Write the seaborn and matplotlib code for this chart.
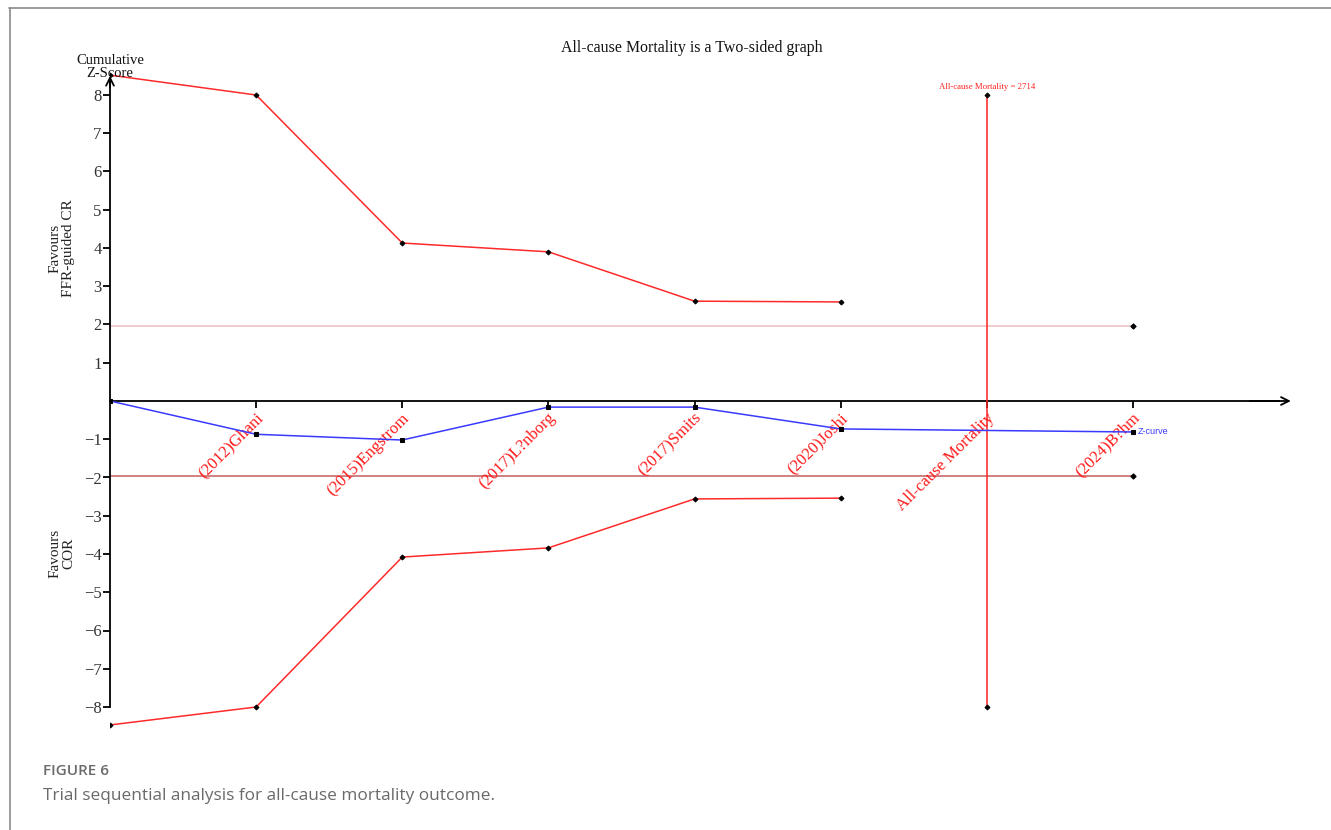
import matplotlib
matplotlib.use("Agg")
import matplotlib.pyplot as plt
from matplotlib.lines import Line2D
import seaborn as sns
import numpy as np

# ---- data ----
study_labels = ["(2012)Ghani", "(2015)Engstrom", "(2017)L?nborg", "(2017)Smits", "(2020)Joshi", "(2024)B?hm"]
study_pos = [1, 2, 3, 4, 5, 7]
ris_pos = 6
ris_label = "All-cause Mortality"
ris_text = "All-cause Mortality = 2714"

z_x = [0, 1, 2, 3, 4, 5, 7]
z_values = [0.0, -0.87, -1.02, -0.16, -0.16, -0.73, -0.81]

bound_x = [0, 1, 2, 3, 4, 5]
upper_bound = [8.52, 8.0, 4.13, 3.90, 2.61, 2.59]
lower_bound = [-8.47, -8.0, -4.08, -3.84, -2.56, -2.54]

conv_x = [0, 7]
conv_upper = [1.96, 1.96]
conv_lower = [-1.96, -1.96]

ris_y = [-8, 8]
yticks = [-8, -7, -6, -5, -4, -3, -2, -1, 1, 2, 3, 4, 5, 6, 7, 8]

# ---- style ----
sns.set_theme(style="white")
serif = ["Liberation Serif", "DejaVu Serif"]
plt.rcParams["font.family"] = serif

W, H = 1331, 830
fig = plt.figure(figsize=(W / 100, H / 100), dpi=100)
fig.patch.set_facecolor("white")

px0, px_step = 110, 146.14
y0_px, y_step = 401, 38.25
ax_right_px = 1300
ax_top_px, ax_bot_px = 70, 730
ax = fig.add_axes([px0 / W, (H - ax_bot_px) / H, (ax_right_px - px0) / W, (ax_bot_px - ax_top_px) / H])
ax.set_facecolor("none")
ax.set_xlim(0, (ax_right_px - px0) / px_step)
ax.set_ylim(-(ax_bot_px - y0_px) / y_step, (y0_px - ax_top_px) / y_step)

mk = dict(markerfacecolor="black", markeredgecolor="black")

# conventional boundaries
sns.lineplot(x=conv_x, y=conv_upper, ax=ax, color="#ecc4c4", lw=1.2, zorder=2, estimator=None)
sns.lineplot(x=conv_x, y=conv_lower, ax=ax, color="#c86a6a", lw=1.2, zorder=2, estimator=None)
ax.scatter([conv_x[-1], conv_x[-1]], [conv_upper[-1], conv_lower[-1]], s=6, color="black", marker="D", zorder=5)

# monitoring boundaries
sns.lineplot(x=bound_x, y=upper_bound, ax=ax, color="#ff2a2a", lw=1.1, marker="D", markersize=2.5,
             zorder=3, estimator=None, **mk)
sns.lineplot(x=bound_x, y=lower_bound, ax=ax, color="#ff2a2a", lw=1.1, marker="D", markersize=2.5,
             zorder=3, estimator=None, **mk)

# RIS line
sns.lineplot(x=[ris_pos, ris_pos], y=ris_y, ax=ax, color="#ff2020", lw=1.1, marker="D", markersize=2.5,
             zorder=3, sort=False, estimator=None, errorbar=None, **mk)

# Z-curve
sns.lineplot(x=z_x, y=z_values, ax=ax, color="#3a3aff", lw=1.1, marker="s", markersize=3.5,
             zorder=4, estimator=None, **mk)

# axes lines
for s in ["top", "right"]:
    ax.spines[s].set_visible(False)
ax.spines["left"].set_position(("data", 0))
ax.spines["bottom"].set_position(("data", 0))
ax.spines["left"].set_bounds(-8, 8.35)
ax.spines["bottom"].set_bounds(0, 8.0)
for s in ["left", "bottom"]:
    ax.spines[s].set_color("black")
    ax.spines[s].set_linewidth(1.3)
ax.annotate("", xy=(0, 8.5), xytext=(0, 8.2), arrowprops=dict(arrowstyle="->", color="black", lw=1.3,
            mutation_scale=14, shrinkA=0, shrinkB=0))
ax.annotate("", xy=(8.08, 0), xytext=(7.8, 0), arrowprops=dict(arrowstyle="->", color="black", lw=1.3,
            mutation_scale=14, shrinkA=0, shrinkB=0))

ax.set_yticks(yticks)
ax.set_yticklabels([f"{v}".replace("-", "\u2212") for v in yticks])
ax.set_xticks(study_pos + [ris_pos])
ax.set_xticklabels([])
ax.tick_params(axis="y", direction="out", length=5, width=1.3, color="black", labelsize=12,
               labelcolor="#333333", pad=1, left=True)
ax.tick_params(axis="x", direction="out", length=5, width=1.3, color="black", bottom=True)
for lab in ax.get_yticklabels():
    lab.set_fontfamily(serif)
ax.grid(False)

# rotated study labels
for xp, lab in zip(study_pos + [ris_pos], study_labels + [ris_label]):
    ax.annotate(lab, xy=(xp, 0), xytext=(-1, -9), textcoords="offset pixels", rotation=45,
                rotation_mode="anchor", ha="right", va="top", color="#ff1a1a", fontsize=12,
                family=serif)

ax.text(ris_pos, 8.1, ris_text, ha="center", va="bottom", color="#ff2020", fontsize=6.3, family=serif)
ax.annotate("Z-curve", xy=(z_x[-1], z_values[-1]), xytext=(5, 0), textcoords="offset pixels",
            ha="left", va="center", color="#3a3aff", fontsize=6.5, family=["Liberation Sans", "DejaVu Sans"])

# titles / labels
fig.text(692 / W, 1 - 48.5 / H, "All-cause Mortality is a Two-sided graph", ha="center", va="center",
         fontsize=11.4, family=serif, color="#111111")
fig.text(110 / W, 1 - 67 / H, "Cumulative\nZ-Score", ha="center", va="center", fontsize=10.5,
         family=serif, linespacing=1.0, color="#111111")
fig.text(62 / W, 1 - 248 / H, "Favours\nFFR-guided CR", ha="center", va="center", rotation=90,
         fontsize=11, family=serif, linespacing=1.0, color="#222222")
fig.text(62 / W, 1 - 553 / H, "Favours\nCOR", ha="center", va="center", rotation=90,
         fontsize=11, family=serif, linespacing=1.0, color="#222222")

# frame lines
fig.add_artist(Line2D([9 / W, 1], [1 - 8.5 / H, 1 - 8.5 / H], transform=fig.transFigure, color="#8a8a8a", lw=1.2))
fig.add_artist(Line2D([9.5 / W, 9.5 / W], [0, 1 - 8.5 / H], transform=fig.transFigure, color="#8a8a8a", lw=1.2))

# caption
cap_font = ["Open Sans", "DejaVu Sans"]
fig.text(43 / W, 1 - 771 / H, "FIGURE 6", ha="left", va="center", fontsize=11, fontweight="semibold",
         family=cap_font, color="#6a6a6a")
fig.text(43 / W, 1 - 796 / H, "Trial sequential analysis for all-cause mortality outcome.", ha="left",
         va="center", fontsize=12.4, family=cap_font, color="#6a6a6a")

fig.savefig("out.png", dpi=100, facecolor="white")
